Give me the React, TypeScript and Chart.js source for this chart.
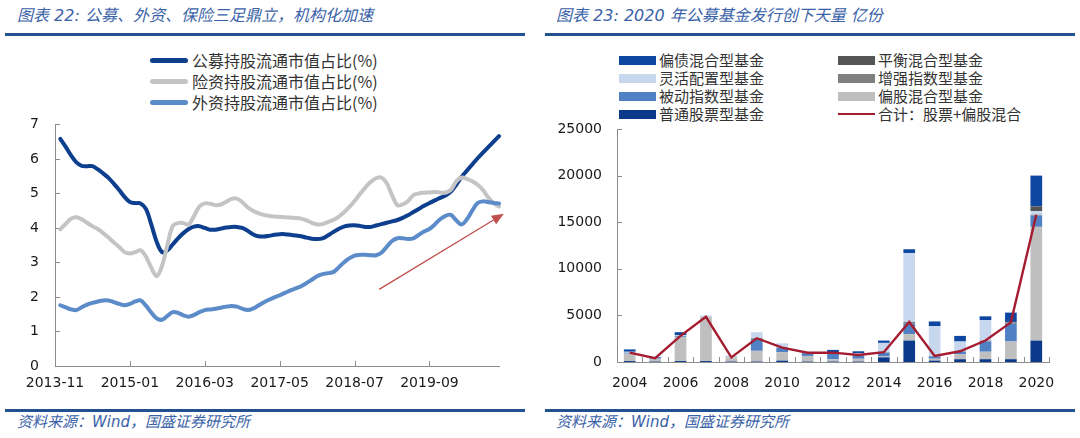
import React, { useEffect, useRef } from "react";
import { Chart, registerables } from "chart.js";

Chart.register(...registerables);

// ================= Left chart (图表 22) =================
// Monthly categories 2013-11 .. 2020-10
const MONTH_LABELS: string[] = [];
for (let i = 0; i < 84; i++) {
  const t = 2013 * 12 + 10 + i;
  MONTH_LABELS.push(`${Math.floor(t / 12)}-${String((t % 12) + 1).padStart(2, "0")}`);
}
const MONTH_TICK_EVERY = 14;

const PUBLIC_FUND: (number | null)[] = [null,
  6.58, 6.35, 6.10, 5.90, 5.80, 5.79, 5.79, 5.70, 5.58, 5.45,
  5.28, 5.10, 4.90, 4.75, 4.72, 4.71, 4.55, 4.10, 3.60, 3.30,
  3.35, 3.52, 3.70, 3.85, 3.97, 4.04, 4.05, 4.00, 3.95, 3.95,
  3.98, 4.01, 4.03, 4.03, 4.00, 3.92, 3.82, 3.76, 3.75, 3.77,
  3.80, 3.82, 3.82, 3.80, 3.78, 3.76, 3.72, 3.69, 3.68, 3.70,
  3.78, 3.88, 3.97, 4.04, 4.07, 4.08, 4.06, 4.03, 4.03, 4.07,
  4.11, 4.15, 4.19, 4.23, 4.29, 4.37, 4.46, 4.55, 4.64, 4.72,
  4.80, 4.87, 4.94, 5.05, 5.25, 5.48, 5.66, 5.84, 6.02, 6.18,
  6.34, 6.50, 6.66];

const INSURANCE: (number | null)[] = [null,
  3.96, 4.12, 4.27, 4.31, 4.25, 4.15, 4.05, 3.97, 3.85, 3.72,
  3.58, 3.45, 3.30, 3.26, 3.30, 3.35, 3.17, 2.85, 2.60, 2.90,
  3.50, 4.05, 4.14, 4.14, 4.10, 4.35, 4.62, 4.71, 4.70, 4.66,
  4.68, 4.76, 4.84, 4.85, 4.75, 4.60, 4.50, 4.43, 4.38, 4.35,
  4.33, 4.32, 4.31, 4.30, 4.29, 4.27, 4.22, 4.15, 4.10, 4.11,
  4.17, 4.23, 4.32, 4.45, 4.60, 4.78, 4.98, 5.17, 5.33, 5.44,
  5.46, 5.30, 4.95, 4.66, 4.68, 4.78, 4.95, 5.00, 5.02, 5.03,
  5.04, 5.03, 5.02, 5.10, 5.35, 5.46, 5.42, 5.35, 5.25, 5.10,
  4.88, 4.72, 4.62];

const FOREIGN: (number | null)[] = [null,
  1.76, 1.70, 1.64, 1.62, 1.70, 1.78, 1.83, 1.87, 1.90, 1.90,
  1.85, 1.80, 1.76, 1.80, 1.87, 1.90, 1.75, 1.55, 1.38, 1.34,
  1.45, 1.56, 1.54, 1.47, 1.43, 1.48, 1.56, 1.62, 1.64, 1.66,
  1.69, 1.72, 1.74, 1.72, 1.66, 1.62, 1.66, 1.75, 1.84, 1.92,
  1.99, 2.05, 2.12, 2.19, 2.25, 2.31, 2.40, 2.50, 2.60, 2.66,
  2.69, 2.72, 2.85, 3.00, 3.12, 3.20, 3.22, 3.22, 3.21, 3.21,
  3.28, 3.45, 3.62, 3.70, 3.70, 3.68, 3.70, 3.80, 3.90, 3.97,
  4.10, 4.25, 4.35, 4.38, 4.22, 4.10, 4.25, 4.50, 4.72, 4.77,
  4.75, 4.72, 4.71];

const LINE_SERIES = [
  { label: "公募持股流通市值占比(%)", data: PUBLIC_FUND, color: "#0E3F8E", order: 2 },
  { label: "险资持股流通市值占比(%)", data: INSURANCE, color: "#C4C4C4", order: 1 },
  { label: "外资持股流通市值占比(%)", data: FOREIGN, color: "#5B8BC8", order: 0 },
];
const LEFT_Y_TICKS = [0, 1, 2, 3, 4, 5, 6, 7];
// trend arrow annotation, in data space [category index, value]
const ARROW_FROM = [60.6, 2.22];
const ARROW_TO = [83.9, 4.41];

// ================= Right chart (图表 23) =================
const YEARS = ["2004", "2005", "2006", "2007", "2008", "2009", "2010", "2011", "2012",
  "2013", "2014", "2015", "2016", "2017", "2018", "2019", "2020"];
const STOCK_FUND = [100, 50, 100, 100, 50, 50, 150, 50, 50, 50, 500, 2300, 150, 300, 300, 300, 2300];
const PARTIAL_STOCK = [800, 300, 2600, 4750, 450, 1150, 900, 600, 250, 300, 100, 700, 200, 550, 800, 1900, 12200];
const PASSIVE_INDEX = [100, 50, 100, 0, 0, 1250, 450, 300, 650, 350, 400, 1100, 250, 250, 1100, 1900, 1200];
const ENHANCED_INDEX = [0, 0, 0, 0, 0, 100, 50, 50, 50, 50, 50, 200, 50, 50, 100, 150, 100];
const FLEXIBLE = [100, 0, 100, 150, 100, 650, 450, 100, 50, 200, 1000, 7400, 3200, 1050, 2200, 0, 400];
const BALANCED = [0, 0, 0, 0, 0, 0, 0, 0, 0, 0, 0, 0, 0, 0, 0, 50, 500];
const PARTIAL_BOND = [250, 100, 300, 0, 50, 0, 0, 0, 250, 200, 250, 400, 500, 600, 400, 1000, 3300];
const TOTAL_STOCK_MIXED = [1000, 400, 2800, 4850, 500, 2550, 1550, 1000, 1000, 750, 1050, 4300, 650, 1150, 2300, 4250, 15800];

const BAR_SERIES = {
  stock: { label: "普通股票型基金", data: STOCK_FUND, color: "#0B3A8A" },
  partialStock: { label: "偏股混合型基金", data: PARTIAL_STOCK, color: "#BFBFBF" },
  passive: { label: "被动指数型基金", data: PASSIVE_INDEX, color: "#4F81C4" },
  enhanced: { label: "增强指数型基金", data: ENHANCED_INDEX, color: "#7F7F7F" },
  flexible: { label: "灵活配置型基金", data: FLEXIBLE, color: "#C6D7EE" },
  balanced: { label: "平衡混合型基金", data: BALANCED, color: "#555555" },
  partialBond: { label: "偏债混合型基金", data: PARTIAL_BOND, color: "#0D47A1" },
};
const STACK_ORDER = ["stock", "partialStock", "passive", "enhanced", "flexible", "balanced", "partialBond"];
const TOTAL_SERIES = { label: "合计：股票+偏股混合", data: TOTAL_STOCK_MIXED, color: "#A51C30" };
const RIGHT_Y_TICKS = [0, 5000, 10000, 15000, 20000, 25000];
const LEGEND_COL1 = ["partialBond", "flexible", "passive", "stock"];
const LEGEND_COL2 = ["balanced", "enhanced", "partialStock"];

// ================= styling =================
const AXIS_COLOR = "#8C8C8C";
const TICK_FONT = { family: "'DejaVu Sans', sans-serif", size: 14 };
const TICK_COLOR = "#1A1A1A";
const HEAD_BLUE = "#3A62A7";
const RULE_BLUE = "#23508E";
const CJK = "'DejaVu Sans', 'Noto Sans CJK SC', sans-serif";

// ================= plugins =================
const innerTicks = {
  id: "innerTicks",
  beforeDatasetsDraw(chart: any, _a: any, opts: any) {
    const { ctx, chartArea, scales } = chart;
    const len = opts.len || 5;
    ctx.save();
    ctx.strokeStyle = AXIS_COLOR;
    ctx.lineWidth = 1;
    ctx.beginPath();
    for (const v of opts.yValues || []) {
      const py = Math.round(scales.y.getPixelForValue(v)) + 0.5;
      ctx.moveTo(chartArea.left, py);
      ctx.lineTo(chartArea.left + len, py);
    }
    for (const v of opts.xValues || []) {
      const px = Math.round(scales.x.getPixelForValue(v)) + 0.5;
      ctx.moveTo(px, chartArea.bottom);
      ctx.lineTo(px, chartArea.bottom - len);
    }
    ctx.stroke();
    ctx.restore();
  },
};

const arrowPlugin = {
  id: "trendArrow",
  afterDatasetsDraw(chart: any, _a: any, opts: any) {
    if (!opts || !opts.from) return;
    const { ctx, scales } = chart;
    const x1 = scales.x.getPixelForValue(opts.from[0]);
    const y1 = scales.y.getPixelForValue(opts.from[1]);
    const x2 = scales.x.getPixelForValue(opts.to[0]);
    const y2 = scales.y.getPixelForValue(opts.to[1]);
    const ang = Math.atan2(y2 - y1, x2 - x1);
    const head = 12;
    const hw = 5;
    const bx = x2 - head * Math.cos(ang);
    const by = y2 - head * Math.sin(ang);
    ctx.save();
    ctx.strokeStyle = opts.color;
    ctx.fillStyle = opts.color;
    ctx.lineWidth = 1.3;
    ctx.beginPath();
    ctx.moveTo(x1, y1);
    ctx.lineTo(bx, by);
    ctx.stroke();
    ctx.beginPath();
    ctx.moveTo(x2, y2);
    ctx.lineTo(bx + hw * Math.sin(ang), by - hw * Math.cos(ang));
    ctx.lineTo(bx - hw * Math.sin(ang), by + hw * Math.cos(ang));
    ctx.closePath();
    ctx.fill();
    ctx.restore();
  },
};

// ================= charts =================
function LeftChart() {
  const ref = useRef<HTMLCanvasElement>(null);
  useEffect(() => {
    const chart = new Chart(ref.current as HTMLCanvasElement, {
      type: "line",
      data: {
        labels: MONTH_LABELS,
        datasets: LINE_SERIES.map((s) => ({
          label: s.label,
          data: s.data,
          order: s.order,
          borderColor: s.color,
          backgroundColor: s.color,
          borderWidth: 4,
          pointRadius: 0,
          tension: 0.35,
          spanGaps: true,
          fill: false,
          borderCapStyle: "round",
          borderJoinStyle: "round",
        })) as any,
      },
      options: {
        animation: false,
        responsive: false,
        events: [],
        layout: { padding: { top: 17, right: 41, left: 0, bottom: 0 } },
        plugins: {
          legend: { display: false },
          tooltip: { enabled: false },
          innerTicks: {
            len: 5,
            yValues: LEFT_Y_TICKS,
            xValues: MONTH_LABELS.map((_, i) => i).filter((i) => i % MONTH_TICK_EVERY === 0 && i > 0),
          },
          trendArrow: { from: ARROW_FROM, to: ARROW_TO, color: "#C0504D" },
        } as any,
        scales: {
          x: {
            type: "category",
            offset: false,
            grid: { display: false, drawTicks: false },
            border: { display: true, color: AXIS_COLOR, width: 1 },
            ticks: {
              autoSkip: false,
              maxRotation: 0,
              minRotation: 0,
              padding: 9,
              color: TICK_COLOR,
              font: TICK_FONT,
              callback: (_v: any, i: number) => (i % MONTH_TICK_EVERY === 0 ? MONTH_LABELS[i] : null),
            },
            afterFit: (s: any) => { s.height = 34; },
          },
          y: {
            min: 0,
            max: 7,
            grid: { display: false, drawTicks: false },
            border: { display: true, color: AXIS_COLOR, width: 1 },
            ticks: { stepSize: 1, padding: 16, color: TICK_COLOR, font: TICK_FONT },
            afterFit: (s: any) => { s.width = 55; },
          },
        },
      } as any,
      plugins: [innerTicks, arrowPlugin],
    });
    return () => chart.destroy();
  }, []);
  return (
    <canvas ref={ref} width={540} height={300}
      style={{ position: "absolute", left: 0, top: 100, width: 540, height: 300 }} />
  );
}

function RightChart() {
  const ref = useRef<HTMLCanvasElement>(null);
  useEffect(() => {
    const bars = STACK_ORDER.map((k) => {
      const s = (BAR_SERIES as any)[k];
      return {
        type: "bar",
        label: s.label,
        data: s.data,
        backgroundColor: s.color,
        borderWidth: 0,
        stack: "funds",
        order: 1,
        categoryPercentage: 1,
        barPercentage: 0.46,
      };
    });
    const chart = new Chart(ref.current as HTMLCanvasElement, {
      type: "bar",
      data: {
        labels: YEARS,
        datasets: [
          ...bars,
          {
            type: "line",
            label: TOTAL_SERIES.label,
            data: TOTAL_SERIES.data,
            borderColor: TOTAL_SERIES.color,
            backgroundColor: TOTAL_SERIES.color,
            borderWidth: 2.4,
            pointRadius: 0,
            tension: 0,
            stack: "total",
            order: 0,
          },
        ] as any,
      },
      options: {
        animation: false,
        responsive: false,
        events: [],
        layout: { padding: { top: 29, right: 31, left: 0, bottom: 0 } },
        plugins: {
          legend: { display: false },
          tooltip: { enabled: false },
          innerTicks: {
            len: 5,
            yValues: RIGHT_Y_TICKS,
            xValues: [...YEARS.map((_, i) => i - 0.5), YEARS.length - 0.5],
          },
        } as any,
        scales: {
          x: {
            stacked: true,
            grid: { display: false, drawTicks: false },
            border: { display: true, color: AXIS_COLOR, width: 1 },
            ticks: {
              autoSkip: false,
              maxRotation: 0,
              minRotation: 0,
              padding: 13,
              color: TICK_COLOR,
              font: TICK_FONT,
              callback: (_v: any, i: number) => (i % 2 === 0 ? YEARS[i] : null),
            },
            afterFit: (s: any) => { s.height = 38; },
          },
          y: {
            stacked: true,
            min: 0,
            max: 25000,
            grid: { display: false, drawTicks: false },
            border: { display: true, color: AXIS_COLOR, width: 1 },
            ticks: {
              stepSize: 5000,
              padding: 15,
              color: TICK_COLOR,
              font: TICK_FONT,
              callback: (v: any) => String(v),
            },
            afterFit: (s: any) => { s.width = 77; },
          },
        },
      } as any,
      plugins: [innerTicks],
    });
    return () => chart.destroy();
  }, []);
  return (
    <canvas ref={ref} width={540} height={300}
      style={{ position: "absolute", left: 540, top: 100, width: 540, height: 300 }} />
  );
}

// ================= page =================
const headStyle: React.CSSProperties = {
  position: "absolute",
  fontFamily: CJK,
  fontStyle: "italic",
  fontSize: 15,
  lineHeight: "20px",
  color: HEAD_BLUE,
  whiteSpace: "nowrap",
};
const legendText: React.CSSProperties = {
  fontFamily: "'Noto Sans CJK SC', sans-serif",
  color: "#333",
  whiteSpace: "nowrap",
};

function BarLegendItem({ label, color, line }: { label: string; color: string; line?: boolean }) {
  return (
    <div style={{ display: "flex", alignItems: "center", height: 18 }}>
      <span style={{ display: "inline-block", width: 37, height: line ? 2.5 : 9, background: color, marginRight: 3 }} />
      <span style={{ ...legendText, fontSize: 15, lineHeight: "18px" }}>{label}</span>
    </div>
  );
}

export default function App() {
  return (
    <div style={{ position: "absolute", left: 0, top: 0, width: 1080, height: 438, background: "#fff", overflow: "hidden" }}>
      {/* Left panel */}
      <div style={{ ...headStyle, left: 17, top: 6, fontSize: 16 }}>图表 22: 公募、外资、保险三足鼎立，机构化加速</div>
      <div style={{ position: "absolute", left: 5, top: 33, width: 520, height: 3, background: RULE_BLUE }} />
      <div style={{ position: "absolute", left: 150, top: 50 }}>
        {LINE_SERIES.map((s) => (
          <div key={s.label} style={{ display: "flex", alignItems: "center", height: 21 }}>
            <span style={{ display: "inline-block", width: 38, height: 5, borderRadius: 3, background: s.color, marginRight: 4 }} />
            <span style={{ ...legendText, fontSize: 16, lineHeight: "21px" }}>{s.label}</span>
          </div>
        ))}
      </div>
      <LeftChart />
      <div style={{ position: "absolute", left: 5, top: 409, width: 520, height: 3, background: RULE_BLUE }} />
      <div style={{ ...headStyle, left: 17, top: 412 }}>资料来源：Wind，国盛证券研究所</div>

      {/* Right panel */}
      <div style={{ ...headStyle, left: 556, top: 6, fontSize: 16 }}>图表 23: 2020 年公募基金发行创下天量 亿份</div>
      <div style={{ position: "absolute", left: 545, top: 33, width: 530, height: 3, background: RULE_BLUE }} />
      <div style={{ position: "absolute", left: 619, top: 51 }}>
        {LEGEND_COL1.map((k) => {
          const s = (BAR_SERIES as any)[k];
          return <BarLegendItem key={k} label={s.label} color={s.color} />;
        })}
      </div>
      <div style={{ position: "absolute", left: 838, top: 51 }}>
        {LEGEND_COL2.map((k) => {
          const s = (BAR_SERIES as any)[k];
          return <BarLegendItem key={k} label={s.label} color={s.color} />;
        })}
        <BarLegendItem label={TOTAL_SERIES.label} color={TOTAL_SERIES.color} line />
      </div>
      <RightChart />
      <div style={{ position: "absolute", left: 545, top: 409, width: 530, height: 3, background: RULE_BLUE }} />
      <div style={{ ...headStyle, left: 556, top: 412 }}>资料来源：Wind，国盛证券研究所</div>
    </div>
  );
}
